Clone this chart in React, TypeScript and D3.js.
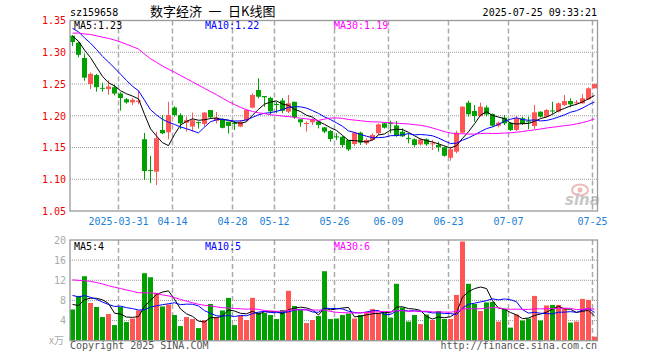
import React from "react";
import * as d3 from "d3";

// ---- data ----
const dates = [
  "03-19","03-20","03-21","03-24","03-25","03-26","03-27","03-28","03-31",
  "04-01","04-02","04-03","04-07","04-08","04-09","04-10","04-11","04-14","04-15","04-16","04-17","04-18","04-21","04-22","04-23","04-24","04-25","04-28","04-29","04-30",
  "05-06","05-07","05-08","05-09","05-12","05-13","05-14","05-15","05-16","05-19","05-20","05-21","05-22","05-23","05-26","05-27","05-28","05-29","05-30",
  "06-03","06-04","06-05","06-06","06-09","06-10","06-11","06-12","06-13","06-16","06-17","06-18","06-19","06-20","06-23","06-24","06-25","06-26","06-27","06-30",
  "07-01","07-02","07-03","07-04","07-07","07-08","07-09","07-10","07-11","07-14","07-15","07-16","07-17","07-18","07-21","07-22","07-23","07-24","07-25",
];

const opens = [
  1.326,1.315,1.291,1.250,1.264,1.244,1.242,1.245,1.235,1.226,1.221,1.222,1.163,1.1145,1.112,1.1776,1.174,1.213,1.201,1.189,
  1.183,1.190,1.187,1.209,1.192,1.194,1.1906,1.1885,1.183,1.193,1.2127,1.2406,1.231,1.228,1.2185,1.224,1.2064,1.222,1.1944,1.187,
  1.1897,1.191,1.1817,1.176,1.1675,1.1668,1.1618,1.1555,1.1733,1.1566,1.1618,1.1724,1.1881,1.1885,1.1847,1.1749,1.1647,1.1629,1.155,1.1629,
  1.156,1.154,1.1503,1.1339,1.1434,1.1733,1.2206,1.2075,1.1996,1.213,1.2027,1.1844,1.1969,1.1891,1.1776,1.196,1.1913,1.1839,1.2064,1.1985,
  1.2083,1.2064,1.2169,1.2232,1.2208,1.2196,1.2259,1.2432,
];
const highs = [
  1.327,1.316,1.298,1.268,1.266,1.252,1.256,1.249,1.237,1.228,1.228,1.240,1.173,1.137,1.175,1.201,1.222,1.215,1.204,1.1985,
  1.205,1.191,1.206,1.209,1.206,1.196,1.1906,1.192,1.193,1.210,1.2354,1.259,1.231,1.230,1.222,1.228,1.2327,1.222,1.1944,1.191,
  1.196,1.191,1.1824,1.1775,1.1724,1.168,1.1618,1.1749,1.1749,1.1645,1.1724,1.1881,1.1897,1.1922,1.1917,1.1803,1.1724,1.1645,1.1645,1.1645,
  1.1618,1.159,1.1513,1.1513,1.1765,1.215,1.2238,1.2169,1.2206,1.216,1.2035,1.191,1.2012,1.190,1.1996,1.1985,1.1985,1.217,1.207,1.2106,
  1.2221,1.221,1.2327,1.2275,1.2248,1.2343,1.2448,1.2505,
];
const lows = [
  1.310,1.292,1.255,1.242,1.238,1.238,1.233,1.232,1.208,1.219,1.217,1.218,1.099,1.094,1.091,1.171,1.163,1.1985,1.179,1.175,
  1.175,1.180,1.183,1.1965,1.188,1.180,1.172,1.1775,1.182,1.191,1.2117,1.2275,1.214,1.202,1.204,1.204,1.204,1.195,1.1828,1.175,
  1.1856,1.180,1.1724,1.1591,1.1618,1.150,1.1445,1.1524,1.154,1.154,1.1607,1.1697,1.180,1.1724,1.167,1.1665,1.1566,1.1513,1.153,1.1524,
  1.146,1.1434,1.1355,1.1292,1.1409,1.172,1.1985,1.1906,1.199,1.199,1.183,1.1817,1.1854,1.176,1.176,1.1854,1.1787,1.179,1.197,1.197,
  1.2028,1.205,1.2153,1.2133,1.2169,1.219,1.2248,1.2432,
];
const closes = [
  1.316,1.296,1.260,1.266,1.245,1.243,1.246,1.235,1.228,1.221,1.225,1.224,1.113,1.114,1.1645,1.1724,1.201,1.201,1.188,1.193,
  1.193,1.1895,1.205,1.1976,1.197,1.181,1.184,1.188,1.1906,1.209,1.2327,1.230,1.229,1.207,1.218,1.208,1.2196,1.198,1.1897,1.1886,
  1.1933,1.1856,1.175,1.1634,1.167,1.154,1.147,1.1733,1.1576,1.1618,1.1697,1.1865,1.1812,1.188,1.1681,1.1676,1.1645,1.154,1.1629,1.155,
  1.1566,1.1503,1.137,1.1472,1.1733,1.2143,1.2023,1.1996,1.2143,1.202,1.1844,1.189,1.1881,1.1776,1.196,1.187,1.1905,1.2054,1.1985,1.209,
  1.2078,1.2196,1.2232,1.218,1.2212,1.2275,1.2432,1.250,
];
const volumes = [
  6.2,8.9,12.8,7.5,6.7,4.7,5.3,3.1,6.7,3.7,4.4,6.0,13.4,12.6,9.5,6.8,7.2,5.1,2.9,4.7,
  4.3,2.5,4.1,7.3,4.6,6.0,8.5,3.1,5.0,4.1,8.5,5.6,5.5,5.1,4.3,6.1,9.9,6.9,6.1,3.5,
  4.1,4.9,13.8,4.3,4.4,5.1,5.4,4.4,5.1,5.6,6.3,5.6,5.6,4.6,11.3,6.6,3.8,5.1,3.3,5.2,
  4.1,5.9,4.3,4.3,9.1,19.7,11.3,7.3,5.9,7.6,7.7,3.8,6.3,2.6,5.2,4.0,4.4,8.9,4.0,7.0,
  7.1,7.1,6.4,3.6,3.8,8.3,8.1,0.8,
];
// sessions before the window (only feed the moving averages at the left edge)
const priorCloses = [
  1.29,1.30,1.295,1.305,1.31,1.30,1.315,1.32,
  1.33,1.335,1.34,1.345,1.34,1.335,1.345,1.35,1.345,1.34,1.345,1.34,
  1.35,1.355,1.35,1.345,1.35,1.335,1.33,1.325,1.32,
];
const priorVolumes = [
  12,15,11,14,13,16,12,14,13,12,15,13,14,12,
  16,13,15,14,15,13.7,
  12,10,11,10.5,10.5,10,7,6,6.8,
];

const tickDates = ["03-31","04-14","04-28","05-12","05-26","06-09","06-23","07-07","07-25"];
const tickLabels = ["2025-03-31","04-14","04-28","05-12","05-26","06-09","06-23","07-07","07-25"];
const priceTicks = [1.35,1.30,1.25,1.20,1.15,1.10,1.05];
const priceGrid = [1.30,1.25,1.20,1.15,1.10];
const volumeTicks = [20,16,12,8,4];
const volumeGrid = [16,12,8,4];
const maPeriods = [5,10,30];

const UP = "#ff5555";
const DOWN = "#00a000";
const MA_COLORS = ["#000000","#0000ff","#ff00ff"];
const MONO = "'DejaVu Sans Mono', monospace";
const GRID = "#999999";

function movingAvg(prior: number[], vals: number[], n: number): number[] {
  const all = prior.concat(vals);
  return vals.map((_, i) => d3.mean(all.slice(prior.length + i - n + 1, prior.length + i + 1)) as number);
}

export default function App() {
  const left = 70, right = 597;
  const pTop = 20.5, pBottom = 211;
  const vTop = 240, vBottom = 340.7;

  const x = d3.scaleBand<string>().domain(dates).range([left, right]).paddingInner(1 / 6).paddingOuter(0);
  const bw = x.bandwidth();
  const cx = (i: number) => (x(dates[i]) as number) + bw / 2;
  const y = d3.scaleLinear().domain([1.05, 1.35]).range([pBottom, pTop]);
  const vy = d3.scaleLinear().domain([0, 20]).range([vBottom, vTop]);

  const priceMA = maPeriods.map((n) => movingAvg(priorCloses, closes, n));
  const volMA = maPeriods.map((n) => movingAvg(priorVolumes, volumes, n));

  const pLine = d3.line<number>().x((_, i) => cx(i)).y((v) => y(v));
  const vLine = d3.line<number>().x((_, i) => cx(i)).y((v) => vy(v));

  const trunc2 = (v: number) => (Math.floor(v * 100 + 1e-9) / 100).toFixed(2);
  const labelX = [74, 205, 334];

  return (
    <svg width={660} height={360} style={{ position: "absolute", left: 0, top: 0, background: "#fff" }}>
      <rect x={0} y={0} width={660} height={360} fill="#fff" />
      {/* header */}
      <text x={70} y={16} fontFamily={MONO} fontSize={10} fill="#000">sz159658</text>
      <text x={150} y={16} fontFamily="'Noto Sans CJK SC', sans-serif" fontSize={13} fill="#000">
        {"数字经济\u2002一\u2002日K线图"}
      </text>
      <text x={597} y={16} fontFamily={MONO} fontSize={10} fill="#000" textAnchor="end">2025-07-25 09:33:21</text>

      {/* price grid */}
      {priceGrid.map((t) => (
        <line key={"pg" + t} x1={left} x2={right} y1={y(t)} y2={y(t)} stroke={GRID} strokeDasharray="1,1" />
      ))}
      {tickDates.map((d) => {
        const gx = (x(d) as number) + 0.5;
        return (
          <g key={"vg" + d}>
            <line x1={gx} x2={gx} y1={pTop} y2={pBottom} stroke="#aaaaaa" strokeWidth={1.5} strokeDasharray="5,3" />
            <line x1={gx} x2={gx} y1={vTop} y2={vBottom} stroke="#aaaaaa" strokeWidth={1.5} strokeDasharray="5,3" />
          </g>
        );
      })}
      {volumeGrid.map((t) => (
        <line key={"vgh" + t} x1={left} x2={right} y1={vy(t)} y2={vy(t)} stroke={GRID} strokeDasharray="1,1" />
      ))}

      {/* sina watermark */}
      <g opacity={0.55}>
        <ellipse cx={580} cy={190} rx={8} ry={5.5} fill="none" stroke="#e08080" strokeWidth={2} />
        <circle cx={580} cy={190} r={2.5} fill="#e08080" />
        <text x={565} y={205} fontFamily="'DejaVu Sans', sans-serif" fontSize={15} fontWeight="bold" fontStyle="italic" fill="#9a9a9a">sina</text>
      </g>

      {/* candles */}
      {dates.map((d, i) => {
        const o = opens[i], c = closes[i];
        const col = c >= o ? UP : DOWN;
        const bx = x(d) as number;
        const yTop = y(Math.max(o, c));
        const yBot = y(Math.min(o, c));
        return (
          <g key={"c" + d}>
            <line x1={bx + bw / 2} x2={bx + bw / 2} y1={y(highs[i])} y2={y(lows[i])} stroke={col} strokeWidth={1} />
            <rect x={bx} y={yTop} width={bw} height={Math.max(1, yBot - yTop)} fill={col} />
          </g>
        );
      })}
      {priceMA.map((arr, k) => (
        <path key={"pma" + k} d={pLine(arr) as string} fill="none" stroke={MA_COLORS[k]} strokeWidth={1} />
      ))}

      {/* volume bars */}
      {dates.map((d, i) => {
        const col = closes[i] >= opens[i] ? UP : DOWN;
        return <rect key={"v" + d} x={x(d) as number} y={vy(volumes[i])} width={bw} height={vBottom - vy(volumes[i])} fill={col} />;
      })}
      {volMA.map((arr, k) => (
        <path key={"vma" + k} d={vLine(arr) as string} fill="none" stroke={MA_COLORS[k]} strokeWidth={1} />
      ))}

      {/* frames */}
      <rect x={left} y={pTop} width={right - left + 0.5} height={pBottom - pTop} fill="none" stroke="#999" strokeWidth={1.3} />
      <rect x={left} y={vTop} width={right - left + 0.5} height={vBottom - vTop} fill="none" stroke="#999" strokeWidth={1.3} />

      {/* MA labels */}
      {maPeriods.map((n, k) => (
        <text key={"pl" + n} x={labelX[k]} y={29} fontFamily={MONO} fontSize={10} fill={MA_COLORS[k]}>
          {`MA${n}:${trunc2(priceMA[k][priceMA[k].length - 1])}`}
        </text>
      ))}
      {maPeriods.map((n, k) => (
        <text key={"vl" + n} x={labelX[k]} y={250} fontFamily={MONO} fontSize={10} fill={MA_COLORS[k]}>
          {`MA${n}:${Math.floor(volMA[k][volMA[k].length - 1])}`}
        </text>
      ))}

      {/* axes labels */}
      {priceTicks.map((t) => (
        <text key={"pt" + t} x={66} y={y(t) + 3.8} fontFamily={MONO} fontSize={10} fill="#ee0000" textAnchor="end">
          {t.toFixed(2)}
        </text>
      ))}
      {volumeTicks.map((t) => (
        <text key={"vt" + t} x={66} y={vy(t) + 3.5} fontFamily={MONO} fontSize={10} fill="#aaaaaa" textAnchor="end">
          {t}
        </text>
      ))}
      <text x={64} y={344} fontFamily="'Noto Sans CJK SC', sans-serif" fontSize={10} fill="#aaaaaa" textAnchor="end">x万</text>
      {tickDates.map((d, k) => (
        <text key={"xt" + d} x={(x(d) as number) + 0.5} y={225} fontFamily={MONO} fontSize={10} fill="#1a7fd6" textAnchor="middle">
          {tickLabels[k]}
        </text>
      ))}

      {/* footer */}
      <text x={70} y={349} fontFamily={MONO} fontSize={10} fill="#555">Copyright 2025 SINA.COM</text>
      <text x={597} y={349} fontFamily={MONO} fontSize={10} fill="#555" textAnchor="end">http://finance.sina.com.cn</text>
    </svg>
  );
}
